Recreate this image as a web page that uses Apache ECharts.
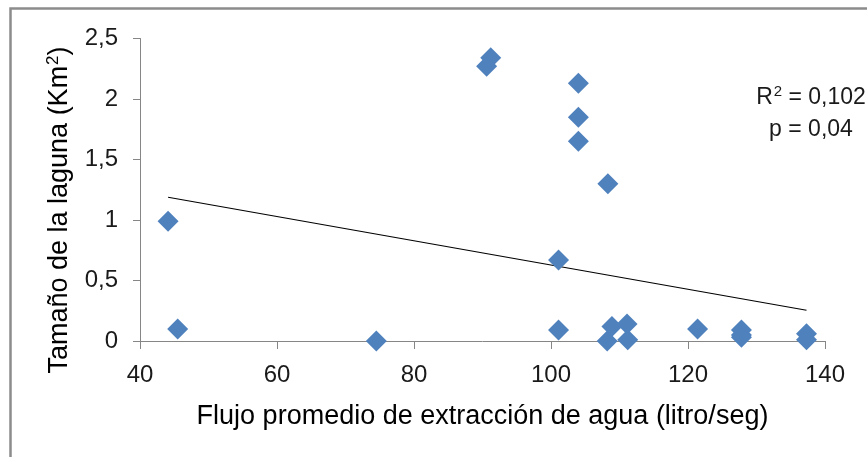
<!DOCTYPE html>
<html>
<head>
<meta charset="utf-8">
<script src="https://cdn.jsdelivr.net/npm/echarts@6/dist/echarts.min.js"></script>
<style>
  html, body { margin: 0; padding: 0; background: #fff; }
  #chart { width: 867px; height: 457px; }
</style>
</head>
<body>
<div id="chart"></div>
<script>
// Water extraction flow (litro/seg) vs. lagoon size (Km²)
const flujo = [44.1, 45.5, 74.5, 90.6, 91.2, 101.1, 101.1, 104.0, 104.0, 104.0,
               108.3, 108.2, 108.9, 111.1, 111.2, 121.4, 127.8, 127.8, 127.8, 137.3, 137.3];
const tamano = [0.99, 0.10, 0.00, 2.27, 2.34, 0.67, 0.09, 2.13, 1.85, 1.65,
                1.30, 0.00, 0.12, 0.14, 0.01, 0.10, 0.09, 0.05, 0.03, 0.06, 0.01];

// Linear trend line end points
const trendX = [44.1, 137.3];
const trendY = [1.188, 0.254];

const xTicks = { min: 40, max: 140, step: 20 };
const yTicks = { min: 0, max: 2.5, step: 0.5 };

const xTitle = 'Flujo promedio de extracción de agua (litro/seg)';
// Y title and R² line as rich text, "2" raised as a superscript
const yTitleRich = '{n|Tamaño de la laguna (Km}{s|2}{n|)}';
const statsRich = ['{n|R}{s|2}{n| = 0,102}', '{n|p = 0,04}'];

const font = 'Liberation Sans, Arial, sans-serif';
const axisGray = '#868686';

const chart = echarts.init(document.getElementById('chart'), null, { renderer: 'canvas' });

function richStyle(size, supSize, color) {
  return {
    n: { fontFamily: font, fontSize: size, fill: color, lineHeight: size + 4 },
    s: { fontFamily: font, fontSize: supSize, fill: color, verticalAlign: 'top', lineHeight: size + 4, padding: [0, 0, 0, 1] }
  };
}

chart.setOption({
  backgroundColor: '#ffffff',
  animation: false,
  grid: { left: 140, right: 42, top: 38.5, bottom: 116, containLabel: false },
  xAxis: {
    type: 'value',
    min: xTicks.min, max: xTicks.max, interval: xTicks.step,
    name: xTitle,
    nameLocation: 'middle', nameGap: 62,
    nameTextStyle: { fontFamily: font, fontSize: 27, color: '#000' },
    axisLine: { show: true, onZero: false, lineStyle: { color: axisGray, width: 1 } },
    axisTick: { show: true, inside: false, length: 8, lineStyle: { color: axisGray } },
    axisLabel: { fontFamily: font, fontSize: 24, color: '#1a1a1a', margin: 22 },
    splitLine: { show: false }
  },
  yAxis: {
    type: 'value',
    min: yTicks.min, max: yTicks.max, interval: yTicks.step,
    axisLine: { show: true, onZero: false, lineStyle: { color: axisGray, width: 1 } },
    axisTick: { show: true, inside: false, length: 7, lineStyle: { color: axisGray } },
    axisLabel: {
      fontFamily: font, fontSize: 24, color: '#1a1a1a', margin: 22,
      formatter: v => String(v).replace('.', ',')
    },
    splitLine: { show: false }
  },
  series: [
    {
      type: 'line',
      data: trendX.map((x, i) => [x, trendY[i]]),
      showSymbol: false,
      symbol: 'none',
      lineStyle: { color: '#000', width: 1.2 },
      z: 3,
      silent: true
    },
    {
      type: 'scatter',
      data: flujo.map((x, i) => [x, tamano[i]]),
      symbol: 'diamond',
      symbolSize: [21, 21],
      itemStyle: { color: '#4F81BD', opacity: 1 },
      z: 4
    }
  ],
  graphic: [
    {
      type: 'rect',
      shape: { x: 10.5, y: 8.5, width: 900, height: 500 },
      style: { fill: 'none', stroke: '#8c8c8c', lineWidth: 2.5 },
      silent: true, z: 10
    },
    {
      type: 'text',
      x: 60, y: 210,
      rotation: Math.PI / 2,
      style: {
        x: 0, y: 0,
        text: yTitleRich,
        rich: richStyle(27, 17, '#000'),
        textAlign: 'center', textVerticalAlign: 'middle'
      }
    },
    {
      type: 'text',
      x: 811, y: 98,
      style: {
        x: 0, y: 0,
        text: statsRich[0],
        rich: richStyle(23, 15, '#1a1a1a'),
        textAlign: 'center', textVerticalAlign: 'middle'
      }
    },
    {
      type: 'text',
      x: 811, y: 130,
      style: {
        x: 0, y: 0,
        text: statsRich[1],
        rich: richStyle(23, 15, '#1a1a1a'),
        textAlign: 'center', textVerticalAlign: 'middle'
      }
    }
  ]
});
</script>
</body>
</html>
